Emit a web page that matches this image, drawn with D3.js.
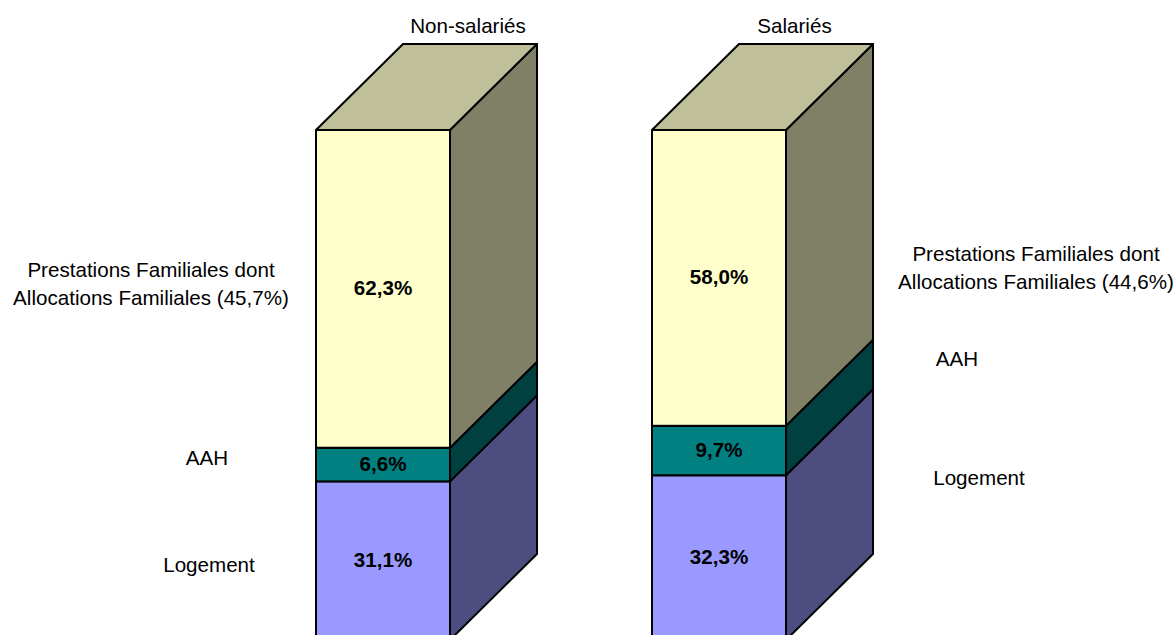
<!DOCTYPE html>
<html><head><meta charset="utf-8">
<script src="https://cdn.jsdelivr.net/npm/d3@7"></script>
<style>html,body{margin:0;padding:0;background:#fff;overflow:hidden}svg{display:block}text{font-family:"Liberation Sans",Arial,sans-serif;fill:#000}</style>
</head><body><div id="c"></div>
<script>
const categories = ["Non-salariés", "Salariés"];
const seriesNames = ["Logement", "AAH", "Prestations Familiales"];
const logement = [31.1, 32.3];
const aah = [6.6, 9.7];
const prestations = [62.3, 58.0];
const valueLabels = [["31,1%","6,6%","62,3%"],["32,3%","9,7%","58,0%"]];
const seriesColors = ["#9999FF","#008080","#FFFFCC"];
const sideColors = ["#4D4D80","#004040","#808066"];
const topColor = "#BFBF99";
const annotations = [
  [{lines:["Logement"],x:209,y:566},{lines:["AAH"],x:207,y:459},{lines:["Prestations Familiales dont","Allocations Familiales (45,7%)"],x:151,y:271}],
  [{lines:["Logement"],x:979,y:479},{lines:["AAH"],x:957,y:360},{lines:["Prestations Familiales dont","Allocations Familiales (44,6%)"],x:1036,y:255}]
];
const W=1176,H=635,dx=87,dy=86,FS=20.6;
const svg=d3.select("#c").append("svg").attr("width",W).attr("height",H).attr("viewBox",`0 0 ${W} ${H}`);
const x=d3.scaleOrdinal().domain(categories).range([316,652]);
const barW=134;
const y=d3.scaleLinear().domain([0,100]).range([640,130]);
const rows=[logement,aah,prestations];
const line=d3.line();
categories.forEach((c,i)=>{
  const g=svg.append("g");
  const x0=x(c),x1=x0+barW;
  let cum=0;
  const stacks=rows.map((r,s)=>{const a=cum;cum+=r[i];return {s,a,b:cum,v:r[i]};});
  stacks.forEach(d=>{
    const y0=y(d.a),y1=y(d.b);
    g.append("path").attr("d",line([[x1,y1],[x1+dx,y1-dy],[x1+dx,y0-dy],[x1,y0]])+"Z")
      .attr("fill",sideColors[d.s]).attr("stroke","#000").attr("stroke-width",2).attr("stroke-linejoin","round");
    g.append("rect").attr("x",x0).attr("y",y1).attr("width",barW).attr("height",y0-y1)
      .attr("fill",seriesColors[d.s]).attr("stroke","#000").attr("stroke-width",2);
  });
  const yt=y(cum);
  g.append("path").attr("d",line([[x0,yt],[x0+dx,yt-dy],[x1+dx,yt-dy],[x1,yt]])+"Z")
    .attr("fill",topColor).attr("stroke","#000").attr("stroke-width",2).attr("stroke-linejoin","round");
  stacks.forEach(d=>{
    g.append("text").attr("x",x0+67).attr("y",(y(d.a)+y(d.b))/2+6).attr("text-anchor","middle")
      .attr("font-size",FS).attr("font-weight","bold").text(valueLabels[i][d.s]);
  });
  g.append("text").attr("x",i===0?468:794.5).attr("y",33).attr("text-anchor","middle").attr("font-size",FS).text(c);
  annotations[i].forEach(a=>{
    a.lines.forEach((t,k)=>g.append("text").attr("x",a.x).attr("y",a.y+6+k*28).attr("text-anchor","middle").attr("font-size",FS).text(t));
  });
});
</script></body></html>
